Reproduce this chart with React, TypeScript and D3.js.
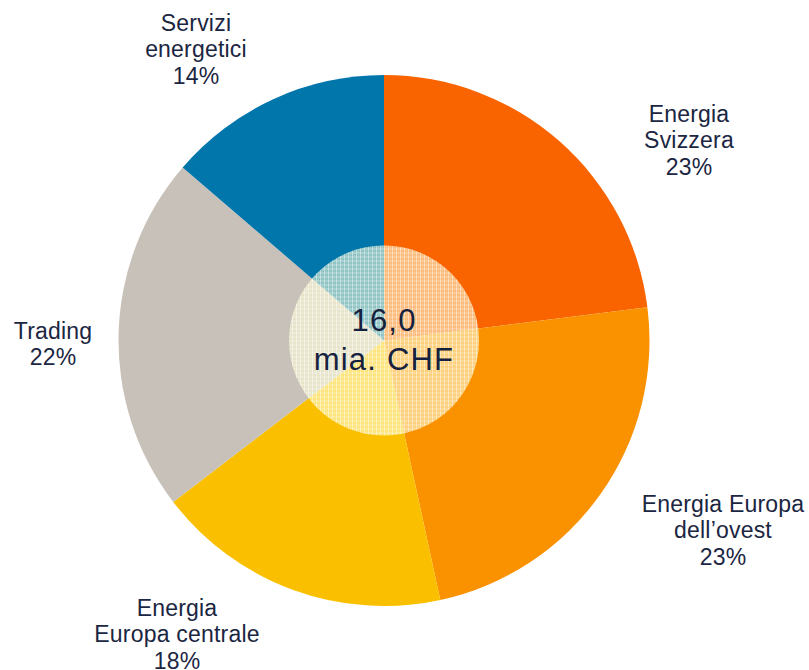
import { useEffect, useRef } from "react";
import * as d3 from "d3";

// segment order, clockwise from 12 o'clock
const segments = ["Energia Svizzera", "Energia Europa dell'ovest", "Energia Europa centrale", "Trading", "Servizi energetici"];
const shares = [23.0, 23.6, 18.0, 21.7, 13.7];
const shareLabels = ["23%", "23%", "18%", "22%", "14%"];
const labelLines = [
  ["Energia", "Svizzera"],
  ["Energia Europa", "dell\u2019ovest"],
  ["Energia", "Europa centrale"],
  ["Trading"],
  ["Servizi", "energetici"],
];
const colors = ["#F96300", "#FA9200", "#FAC000", "#C8C1B9", "#0076AB"];
const totalLines = ["16,0", "mia. CHF"];

const App = () => {
  const svgRef = useRef<SVGSVGElement>(null);

  useEffect(() => {
    const w = 809;
    const h = 670;
    const cx = 384;
    const cy = 340.5;
    const r = 265.5;
    const rInner = 95;
    const font = "'Liberation Sans', Arial, sans-serif";
    const textColor = "#1B2642";

    const svg = d3.select(svgRef.current).attr("width", w).attr("height", h);
    svg.selectAll("*").remove();

    // dotted texture for the centre disc
    const defs = svg.append("defs");
    const pat = defs
      .append("pattern")
      .attr("id", "dots")
      .attr("width", 4)
      .attr("height", 4)
      .attr("patternUnits", "userSpaceOnUse");
    pat.append("rect").attr("width", 4).attr("height", 1).attr("fill", "#fff").attr("opacity", 0.45);
    pat.append("rect").attr("width", 1).attr("height", 4).attr("fill", "#fff").attr("opacity", 0.45);
    pat.append("rect").attr("x", 2).attr("y", 2).attr("width", 1).attr("height", 1).attr("fill", "#fff").attr("opacity", 0.3);

    const pie = d3.pie<number>().sort(null).value((d) => d);
    const arc = d3.arc<d3.PieArcDatum<number>>().innerRadius(0).outerRadius(r);

    const g = svg.append("g").attr("transform", `translate(${cx},${cy})`);
    g.selectAll("path.slice")
      .data(pie(shares))
      .join("path")
      .attr("class", "slice")
      .attr("d", arc)
      .attr("fill", (d, i) => colors[i]);

    g.append("circle").attr("r", rInner).attr("fill", "#FFFFD6").attr("opacity", 0.55);
    g.append("circle").attr("r", rInner).attr("fill", "url(#dots)");

    // centre total
    g.selectAll("text.total")
      .data(totalLines)
      .join("text")
      .attr("class", "total")
      .attr("text-anchor", "middle")
      .attr("y", (d, i) => -9.5 + i * 39)
      .attr("font-family", font)
      .attr("font-size", 31)
      .attr("letter-spacing", 1.2)
      .attr("fill", "#15213F")
      .text((d) => d);

    // outer labels: [centre x, first baseline]
    const anchors = [
      [689, 122],
      [723, 512],
      [177, 616],
      [53, 339],
      [196, 31],
    ];
    const lineH = 26.3;

    segments.forEach((name, i) => {
      const lines = [...labelLines[i], shareLabels[i]];
      const t = svg
        .append("text")
        .attr("text-anchor", "middle")
        .attr("font-family", font)
        .attr("font-size", 23)
        .attr("letter-spacing", 0.2)
        .attr("fill", textColor)
        .attr("data-name", name);
      lines.forEach((line, j) => {
        t.append("tspan")
          .attr("x", anchors[i][0])
          .attr("y", anchors[i][1] + j * lineH)
          .text(line);
      });
    });
  }, []);

  return (
    <div>
      <svg ref={svgRef} style={{ position: "absolute", left: 0, top: 0, display: "block" }}></svg>
    </div>
  );
};

export default App;
